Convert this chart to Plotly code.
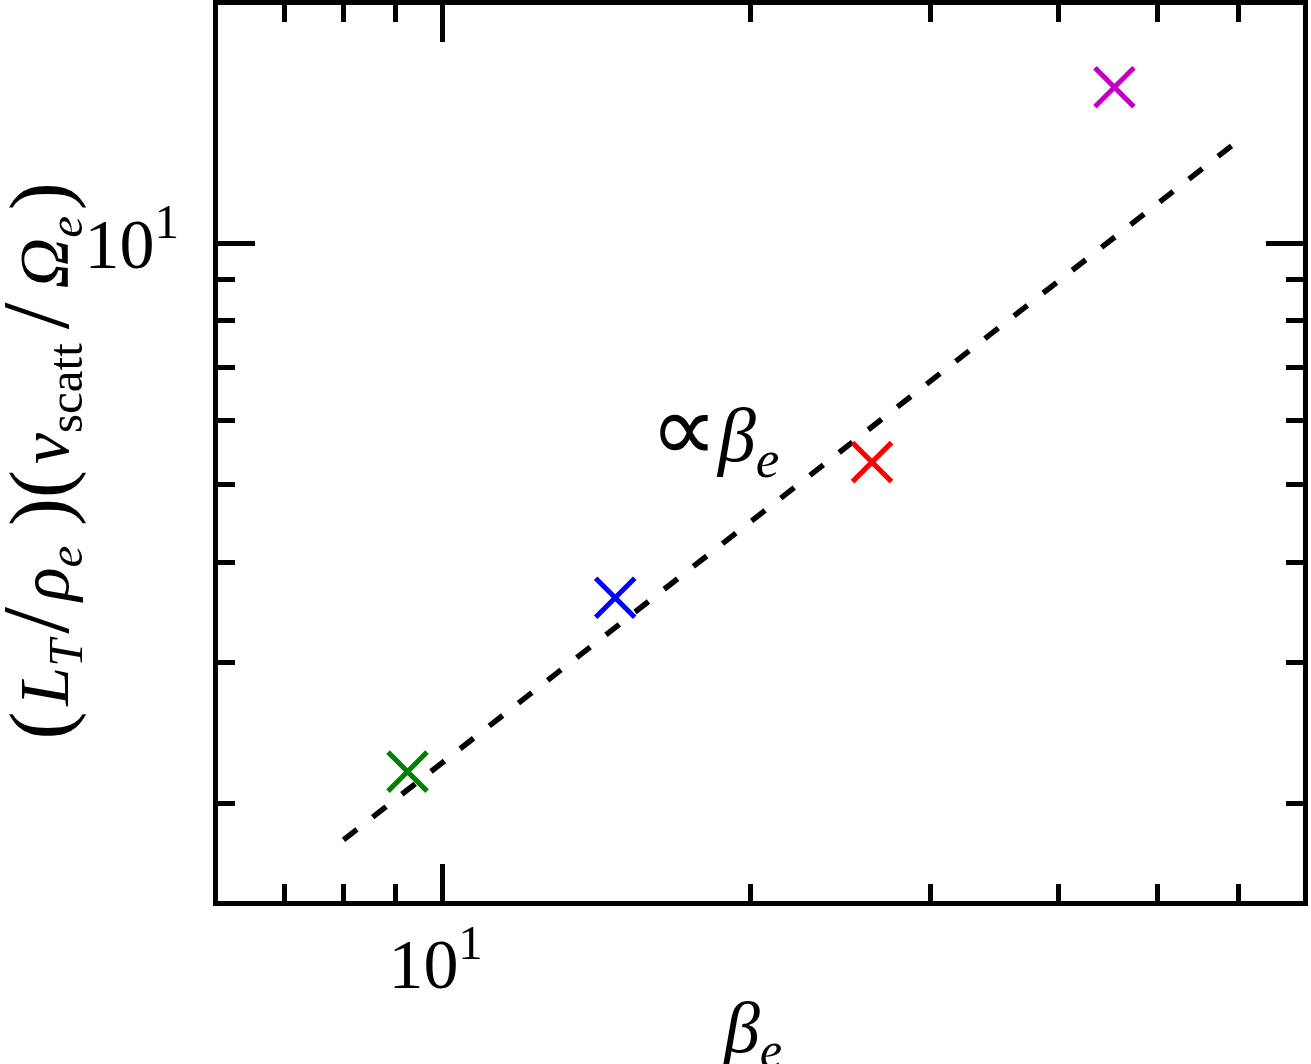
import plotly.graph_objects as go

# ---- data ----
beta_e = [9.24, 14.75, 26.3, 45.4]
lt_nu = [2.19, 3.61, 5.33, 15.65]
point_colors = ["#008000", "#0000ff", "#ff0000", "#bf00bf"]

fit_beta = [8.0, 60.0]
fit_val = [1.80, 13.43]

x_major_vals = [10]
x_major_text = ["10<sup>1</sup>\u2009"]
x_minor_vals = [7, 8, 9, 20, 30, 40, 50, 60]
y_major_vals = [10]
y_major_text = ["10<sup>1</sup>"]
y_minor_vals = [2, 3, 4, 5, 6, 7, 8, 9]

HS = "\u200a"   # hair space
TS = "\u2009"   # thin space
PAREN = '<span style="font-size:84px">{}</span>'
SLASH = '<span style="font-size:96px">/</span>'
x_title = "<i>β</i><sub><i>e</i></sub>"
y_title = (PAREN.format("(") + HS + "<i>L</i><sub><i>T</i></sub>" + HS + SLASH + HS
           + "<i>ρ</i><sub><i>e</i></sub>" + TS + HS + PAREN.format(")")
           + PAREN.format("(") + HS + "<i>ν</i><sub>scatt</sub>" + TS + SLASH + TS
           + "<i>Ω</i><sub><i>e</i></sub>" + HS + PAREN.format(")"))
fit_label = '<span style="font-size:95px">∝</span><i>β</i><sub><i>e</i></sub>'

SERIF = "Liberation Serif"

fig = go.Figure()
fig.add_trace(go.Scatter(
    x=fit_beta, y=fit_val, mode="lines",
    line=dict(color="black", width=5.5, dash="17px,20px"),
    showlegend=False, hoverinfo="skip"))
fig.add_trace(go.Scatter(
    x=beta_e, y=lt_nu, mode="markers",
    marker=dict(symbol="x-thin", size=39, color=point_colors,
                line=dict(color=point_colors, width=5)),
    showlegend=False))

axis_common = dict(
    type="log", showgrid=False, zeroline=False,
    showline=True, linecolor="black", linewidth=5, mirror="ticks",
    ticks="inside", ticklen=37, tickwidth=5, tickcolor="black",
    tickfont=dict(family=SERIF, size=70, color="black"),
)

fig.update_xaxes(
    **axis_common,
    range=[0.7803, 1.8415],
    tickmode="array", tickvals=x_major_vals, ticktext=x_major_text,
    minor=dict(tickmode="array", tickvals=x_minor_vals, ticks="inside",
               ticklen=17, tickwidth=5, tickcolor="black"),
    ticklabelstandoff=-2,
)
fig.update_yaxes(
    **axis_common,
    range=[0.17896, 1.29729],
    tickmode="array", tickvals=y_major_vals, ticktext=y_major_text,
    minor=dict(tickmode="array", tickvals=y_minor_vals, ticks="inside",
               ticklen=17, tickwidth=5, tickcolor="black"),
    ticklabelstandoff=20,
)

fig.add_annotation(text=fit_label, xref="paper", yref="paper",
                   x=0.458, y=0.523, xanchor="center", yanchor="middle",
                   showarrow=False, font=dict(family=SERIF, size=76, color="black"))
fig.add_annotation(text=x_title, xref="paper", yref="paper",
                   x=0.4922, y=-0.1473, xanchor="center", yanchor="middle",
                   showarrow=False, font=dict(family=SERIF, size=72, color="black"))
fig.add_annotation(text=y_title, xref="paper", yref="paper",
                   x=-0.1668, y=0.4905, xanchor="center", yanchor="middle",
                   textangle=-90,
                   showarrow=False, font=dict(family=SERIF, size=70, color="black"))

fig.update_layout(
    width=1311, height=1064,
    margin=dict(l=218, r=8, t=5, b=163, autoexpand=False),
    paper_bgcolor="white", plot_bgcolor="white",
    showlegend=False,
)

fig.write_html("out.html", config={"displayModeBar": False},
               post_script="document.body.style.margin='0px';")
